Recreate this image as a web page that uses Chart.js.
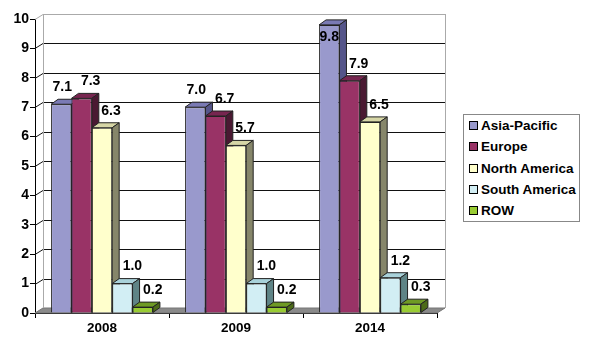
<!DOCTYPE html>
<html>
<head>
<meta charset="utf-8">
<script src="https://cdn.jsdelivr.net/npm/chart.js@4"></script>
<style>
  body { margin: 0; background: #fff; }
  #wrap { position: relative; width: 600px; height: 344px; }
  #legend {
    position: absolute; left: 463px; top: 114px; width: 117px; height: 108px;
    border: 1px solid #888; box-sizing: border-box; background: #fff;
    font: bold 13.5px "Liberation Sans", Arial, sans-serif; color: #000;
  }
  .item { height: 21.3px; display: flex; align-items: center; white-space: nowrap; }
  .box { width: 7px; height: 7px; border: 1px solid #000; margin-left: 5px; margin-right: 3px; }
</style>
</head>
<body>
<div id="wrap">
  <canvas id="chart" width="600" height="344"></canvas>
  <div id="legend"></div>
</div>
<script>
const categories = ['2008', '2009', '2014']
const regions = ['Asia-Pacific', 'Europe', 'North America', 'South America', 'ROW']
const asiaPacific = [7.1, 7.0, 9.8]
const europe = [7.3, 6.7, 7.9]
const northAmerica = [6.3, 5.7, 6.5]
const southAmerica = [1.0, 1.0, 1.2]
const restOfWorld = [0.2, 0.2, 0.3]
const yMin = 0
const yMax = 10

const series = [asiaPacific, europe, northAmerica, southAmerica, restOfWorld]
const frontColors = ['#9999cc', '#993366', '#ffffcc', '#d2eef4', '#99cc33']
const topColors = ['#7a7ab4', '#772650', '#d6d6a6', '#a9d2da', '#6f9a24']
const sideColors = ['#55558a', '#4a1932', '#86866a', '#5f8486', '#4c6a18']
const labelShift = [1, 9, 9, 10, 10]

const FONT = '"Liberation Sans", Arial, sans-serif'
const WALL_DX = 8, WALL_DY = 5
const BAR_DX = 7, BAR_DY = 5

const legend = document.querySelector('#legend')
legend.innerHTML = regions.map((name, i) =>
    `<div class="item"><span class="box" style="background:${frontColors[i]}"></span>${name}</div>`
).join('')

function poly(ctx, pts, fill, stroke) {
    ctx.beginPath()
    ctx.moveTo(pts[0][0], pts[0][1])
    pts.slice(1).forEach(p => ctx.lineTo(p[0], p[1]))
    ctx.closePath()
    if (fill) { ctx.fillStyle = fill; ctx.fill() }
    if (stroke) { ctx.strokeStyle = stroke; ctx.lineWidth = 1; ctx.stroke() }
}

// back wall, floor, then top and side faces of the bars (fronts are drawn by Chart.js)
const box3d = {
    id: 'box3d',
    beforeDatasetsDraw(chart) {
        const { ctx, chartArea: a, scales: { y } } = chart
        ctx.save()
        poly(ctx, [[a.left, a.bottom], [a.right, a.bottom], [a.right + WALL_DX, a.bottom - WALL_DY], [a.left + WALL_DX, a.bottom - WALL_DY]], '#8a8a8a', '#777')

        ctx.lineWidth = 1
        for (let v = yMin + 1; v <= yMax; v++) {
            const yf = Math.round(y.getPixelForValue(v)) + 0.5
            ctx.strokeStyle = v === yMax ? '#aaa' : '#111'
            ctx.beginPath()
            ctx.moveTo(a.left, yf)
            ctx.lineTo(a.left + WALL_DX, yf - WALL_DY)
            ctx.lineTo(a.right + WALL_DX, yf - WALL_DY)
            ctx.stroke()
        }
        ctx.strokeStyle = '#aaa'
        ctx.beginPath()
        ctx.moveTo(a.left + WALL_DX + 0.5, a.top - WALL_DY)
        ctx.lineTo(a.left + WALL_DX + 0.5, a.bottom - WALL_DY)
        ctx.moveTo(a.right + WALL_DX + 0.5, a.top - WALL_DY)
        ctx.lineTo(a.right + WALL_DX + 0.5, a.bottom - WALL_DY)
        ctx.stroke()

        chart.data.datasets.forEach((ds, i) => {
            chart.getDatasetMeta(i).data.forEach(bar => {
                const l = bar.x - bar.width / 2, r = bar.x + bar.width / 2
                poly(ctx, [[l, bar.y], [r, bar.y], [r + BAR_DX, bar.y - BAR_DY], [l + BAR_DX, bar.y - BAR_DY]], topColors[i], '#222')
                poly(ctx, [[r, bar.y], [r + BAR_DX, bar.y - BAR_DY], [r + BAR_DX, bar.base - BAR_DY], [r, bar.base]], sideColors[i], '#222')
            })
        })
        ctx.restore()
    },
    afterDatasetsDraw(chart) {
        const { ctx, chartArea: a } = chart
        ctx.save()
        ctx.font = 'bold 14px ' + FONT
        ctx.fillStyle = '#000'
        ctx.textAlign = 'center'
        ctx.textBaseline = 'middle'
        chart.data.datasets.forEach((ds, i) => {
            chart.getDatasetMeta(i).data.forEach((bar, j) => {
                let ty = bar.y - BAR_DY - 12
                let tx = bar.x + labelShift[i]
                if (ty - 6 < a.top - WALL_DY) { ty = bar.y + 12; tx = bar.x }
                ctx.fillText(ds.data[j].toFixed(1), tx, ty)
            })
        })
        ctx.restore()
    }
}

new Chart(document.querySelector('#chart'), {
    type: 'bar',
    data: {
        labels: categories,
        datasets: regions.map((name, i) => ({
            label: name,
            data: series[i],
            backgroundColor: frontColors[i],
            borderColor: '#222',
            borderWidth: 1,
            categoryPercentage: 0.76,
            barPercentage: 1
        }))
    },
    options: {
        responsive: false,
        animation: false,
        layout: { padding: { top: 19, right: 163, left: 0, bottom: 0 } },
        plugins: {
            legend: { display: false },
            tooltip: { enabled: false }
        },
        scales: {
            x: {
                grid: { offset: true, drawOnChartArea: false, tickLength: 5, color: '#000' },
                border: { color: '#000' },
                ticks: { font: { family: FONT, size: 13.5, weight: 'bold' }, color: '#000', padding: 2 },
                afterFit: s => { s.height = 31 }
            },
            y: {
                min: yMin,
                max: yMax,
                grid: { drawOnChartArea: false, tickLength: 5, color: '#000' },
                border: { color: '#000' },
                ticks: { stepSize: 1, font: { family: FONT, size: 14, weight: 'bold' }, color: '#000', padding: 1 },
                afterFit: s => { s.width = 35 }
            }
        }
    },
    plugins: [box3d]
})
</script>
</body>
</html>
